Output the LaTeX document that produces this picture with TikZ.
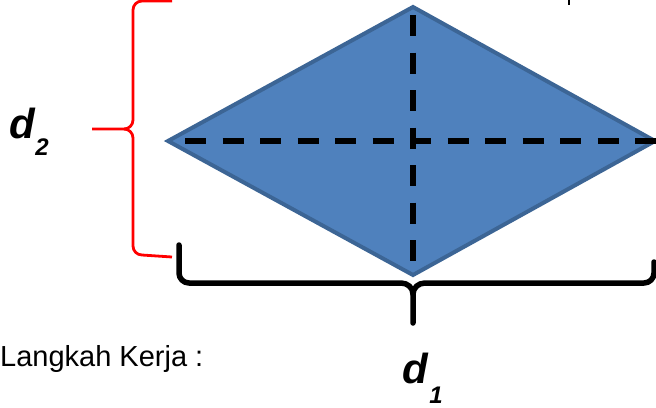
\documentclass[tikz,border=0pt]{standalone}
\usepackage{fontspec}
\setmainfont{Liberation Sans}
\definecolor{rhfill}{HTML}{4F81BD}
\definecolor{rhedge}{HTML}{3C6595}
\definecolor{bracered}{HTML}{FF0000}
\tikzset{
  rhombus/.style={fill=rhfill,draw=rhedge,line width=4pt,line join=miter},
  diag/.style={line width=5.5pt,dash pattern=on 21pt off 16.5pt},
  bbrace/.style={line width=5.5pt,line cap=round,line join=round},
  rbrace/.style={draw=bracered,line width=2.8pt,line join=round},
  dlabel/.style={font=\fontsize{42}{42}\selectfont\bfseries\itshape,inner sep=0pt},
  sublabel/.style={font=\fontsize{24}{24}\selectfont\bfseries\itshape,inner sep=0pt},
  plain/.style={font=\fontsize{29}{29}\selectfont,inner sep=0pt}
}
\begin{document}
\begin{tikzpicture}[x=1pt,y=-1pt]
\useasboundingbox (0,0) rectangle (656,407);
% rhombus vertices
\coordinate (T) at (413,7);
\coordinate (R) at (655,141);
\coordinate (B) at (413,275);
\coordinate (L) at (168,141);
\path[rhombus] (T) -- (R) -- (B) -- (L) -- cycle;
% diagonals
\coordinate (h1) at (185,141);
\coordinate (h2) at (660,141);
\coordinate (v1) at (413,15);
\coordinate (v2) at (413,263);
\draw[diag] (h1) -- (h2);
\draw[diag] (v1) -- (v2);
% red brace (d2)
\coordinate (rt) at (172,1);
\coordinate (rm) at (92,129);
\coordinate (rb) at (172,257);
\draw[rbrace] (rt) -- (142,1) to[out=180,in=90] (133,10) -- (133,120)
  to[out=-90,in=0] (124,129) -- (rm);
\draw[rbrace] (124,129) to[out=0,in=90] (133,138) -- (133,246)
  to[out=-90,in=180] (142,255) -- (rb);
% black brace (d1)
\coordinate (bl) at (179,245);
\coordinate (bm) at (413,323);
\coordinate (br) at (654,262);
\draw[bbrace] (bl) -- (179,273) to[out=-90,in=180] (189,283) -- (401,283)
  to[out=0,in=90] (413,294) -- (bm);
\draw[bbrace] (413,294) to[out=90,in=180] (425,283) -- (644,283)
  to[out=0,in=-90] (654,273) -- (br);
% small mark at top
\coordinate (m1) at (569,0);
\coordinate (m2) at (569,5);
\draw[line width=2.5pt] (m1) -- (m2);
% labels
\node[dlabel,anchor=base] (d2) at (22,138) {d};
\node[sublabel,anchor=base] (s2) at (42,155) {2};
\node[dlabel,anchor=base] (d1) at (415,383) {d};
\node[sublabel,anchor=base] (s1) at (436,403) {1};
\node[plain,anchor=base west] (lk) at (0,366) {Langkah Kerja :};
\end{tikzpicture}
\end{document}
